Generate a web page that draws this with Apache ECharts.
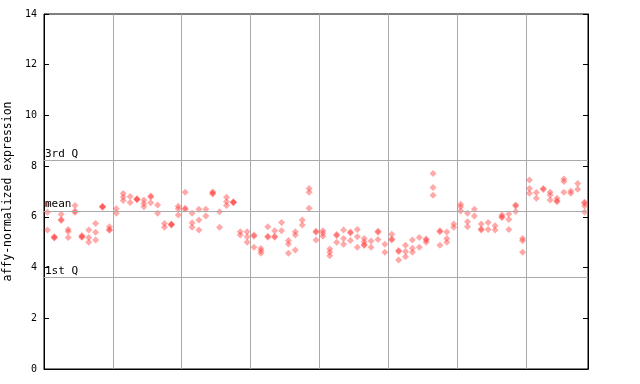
<!DOCTYPE html>
<html><head><meta charset="utf-8">
<script src="https://cdn.jsdelivr.net/npm/echarts@6/dist/echarts.min.js"></script>
<style>html,body{margin:0;padding:0;background:#fff}#c{width:640px;height:384px}</style>
</head><body><div id="c"></div>
<script>
// expression values per sample (replicates), 8 groups of samples
const group1 = [[6.5,6.18,5.48],[5.22,5.17,5.2],[6.1,5.9,5.86],[5.5,5.42,5.19],[6.45,6.22,6.18],[5.26,5.22,5.2],[5.48,5.19,5.0],[5.74,5.39,5.09],[6.42,6.38,6.4],[5.61,5.5,5.47]];
const group2 = [[6.32,6.14],[6.92,6.78,6.65],[6.8,6.57],[6.71,6.67,6.69],[6.66,6.53,6.4],[6.82,6.78,6.56],[6.47,6.14],[5.74,5.59],[5.72,5.68,5.7],[6.42,6.32,6.07]];
const group3 = [[6.97,6.34,6.3],[6.14,5.77,5.59],[6.3,5.88,5.48],[6.3,6.03],[6.98,6.94,6.9],[6.2,5.59],[6.77,6.6,6.45],[6.6,6.56,6.58],[5.41,5.28],[5.41,5.22,5.0]];
const group4 = [[5.28,5.24,4.8],[4.75,4.66,4.56],[5.61,5.24,5.2],[5.45,5.24,5.2],[5.78,5.45],[5.07,4.93,4.56],[5.41,5.28,4.69],[5.88,5.68],[7.12,6.97,6.34],[5.43,5.39,5.09]];
const group5 = [[5.45,5.35,5.24],[4.73,4.6,4.47],[5.3,5.26,5.0],[5.48,5.15,4.92],[5.4,5.36,5.07],[5.5,5.22,4.8],[5.15,5.02,4.91,4.87],[5.05,4.8],[5.43,5.39,5.11],[4.92,4.6]];
const group6 = [[5.31,5.13,5.09],[4.67,4.63,4.3],[4.88,4.63,4.43],[5.09,4.76,4.6],[5.19,4.8],[5.13,5.09,5.0],[7.71,7.16,6.85],[5.45,5.41,4.88],[5.4,5.15,5.0],[5.72,5.59]];
const group7 = [[6.5,6.4,6.23],[6.14,5.81,5.61],[6.3,6.03],[5.72,5.52,5.48],[5.78,5.5],[5.65,5.48],[6.07,6.0,5.97],[6.11,5.9,5.5],[6.47,6.43,6.21],[5.15,5.06,4.6]];
const group8 = [[7.45,7.12,6.93],[6.96,6.73],[7.12,7.08],[6.97,6.86,6.66],[6.73,6.64,6.6],[7.49,7.39,6.97],[7.02,6.93],[7.32,7.09],[6.58,6.54,6.43,6.19]];
const thirdQ = 8.23, meanVal = 6.23, firstQ = 3.62;
const yTicks = [0,2,4,6,8,10,12,14];

const samples = [].concat(group1,group2,group3,group4,group5,group6,group7,group8);
const points = [];
samples.forEach((vals,i)=>vals.forEach(v=>points.push([i+0.5,v])));
const nSamples = samples.length;

const font = 'DejaVu Sans Mono';
const chart = echarts.init(document.getElementById('c'));
chart.setOption({
  animation:false,
  grid:{left:44,right:52,top:14,bottom:15,containLabel:false,outerBoundsMode:'none',show:true,borderColor:'#000',borderWidth:1,backgroundColor:'transparent'},
  xAxis:{type:'value',min:0,max:nSamples,interval:10,
    axisLine:{show:true,lineStyle:{color:'#000'}},axisTick:{show:false},axisLabel:{show:false},
    splitLine:{show:true,showMinLine:false,showMaxLine:false,lineStyle:{color:'#aaaaaa',width:1}}},
  yAxis:[{type:'value',min:0,max:14,interval:2,
    name:'affy-normalized expression',nameLocation:'middle',nameGap:21,
    nameTextStyle:{fontFamily:font,fontSize:11.5,color:'#000'},
    axisLine:{show:true,lineStyle:{color:'#000'}},
    axisTick:{show:true,inside:true,length:5,lineStyle:{color:'#000'}},
    axisLabel:{fontFamily:font,fontSize:10,color:'#000',margin:7,formatter:v=>yTicks.includes(v)?String(v):''},
    splitLine:{show:false}},
   {type:'value',min:0,max:14,interval:2,position:'right',
    axisLine:{show:true,lineStyle:{color:'#000'}},
    axisTick:{show:true,inside:true,length:5,lineStyle:{color:'#000'}},
    axisLabel:{show:false},splitLine:{show:false}}],
  series:[{type:'scatter',data:points,symbol:'diamond',symbolSize:7,
    itemStyle:{color:'rgba(255,60,60,0.55)'},
    markLine:{silent:true,symbol:'none',
      lineStyle:{color:'#aaaaaa',width:1,type:'solid'},
      label:{position:'insideStartTop',distance:[1,1],fontFamily:font,fontSize:11,color:'#000'},
      data:[{yAxis:thirdQ,label:{formatter:'3rd Q'}},{yAxis:meanVal,label:{formatter:'mean'}},{yAxis:firstQ,label:{formatter:'1st Q'}}]},
    z:3}]
});
</script></body></html>
